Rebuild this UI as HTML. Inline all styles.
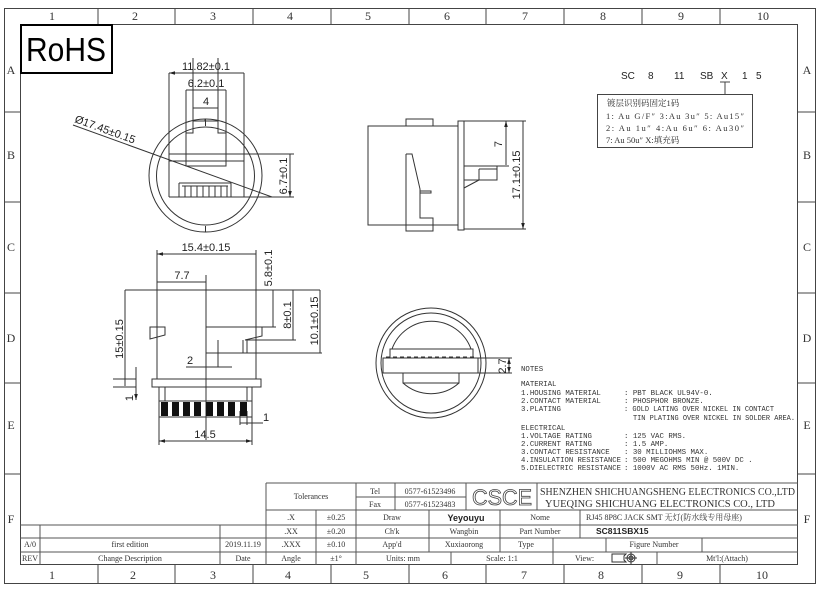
<!DOCTYPE html>
<html><head><meta charset="utf-8"><style>
html,body{margin:0;padding:0;background:#fff;}
svg{display:block;}
.t{font-family:"Liberation Serif","Noto Serif CJK SC",serif;fill:#333;}
.m{font-family:"Liberation Mono","Noto Sans CJK SC",monospace;fill:#333;}
.d{font-family:"Liberation Sans",sans-serif;fill:#222;}
</style></head><body>
<svg width="830" height="597" viewBox="0 0 830 597" xmlns="http://www.w3.org/2000/svg">
<defs>
<marker id="a" viewBox="0 0 10 10" refX="10" refY="5" markerWidth="6" markerHeight="6" orient="auto-start-reverse"><path d="M0,2 L10,5 L0,8 z" fill="#222"/></marker>
</defs>
<g fill="none" stroke="#444" stroke-width="1">
<rect x="4.5" y="8.5" width="811" height="575"/>
<rect x="20.5" y="24.5" width="777" height="540"/>
<path d="M98,8V24M175,8V24M253,8V24M331,8V24M409,8V24M486,8V24M564,8V24M642,8V24M720,8V24"/>
<path d="M98,565V583M175,565V583M253,565V583M331,565V583M409,565V583M486,565V583M564,565V583M642,565V583M720,565V583"/>
<path d="M4,112H20M4,202H20M4,293H20M4,383H20M4,474H20M798,112H815M798,202H815M798,293H815M798,383H815M798,474H815"/>
</g>
<g class="t" font-size="12" text-anchor="middle">
<text x="52" y="20">1</text><text x="135" y="20">2</text><text x="213" y="20">3</text><text x="290" y="20">4</text><text x="368" y="20">5</text><text x="447" y="20">6</text><text x="525" y="20">7</text><text x="603" y="20">8</text><text x="681" y="20">9</text><text x="763" y="20">10</text>
<text x="52" y="579">1</text><text x="133" y="579">2</text><text x="213" y="579">3</text><text x="288" y="579">4</text><text x="366" y="579">5</text><text x="445" y="579">6</text><text x="524" y="579">7</text><text x="601" y="579">8</text><text x="680" y="579">9</text><text x="762" y="579">10</text>
<text x="11" y="74">A</text><text x="11" y="159">B</text><text x="11" y="251">C</text><text x="11" y="342">D</text><text x="11" y="429">E</text><text x="11" y="523">F</text>
<text x="807" y="74">A</text><text x="807" y="159">B</text><text x="807" y="251">C</text><text x="807" y="342">D</text><text x="807" y="429">E</text><text x="807" y="523">F</text>
</g>
<rect x="21" y="25" width="91" height="48" fill="none" stroke="#000" stroke-width="2"/>
<text x="66" y="61" font-family="Liberation Sans,sans-serif" font-size="33" text-anchor="middle" fill="#000" textLength="80" lengthAdjust="spacingAndGlyphs">RoHS</text>

<g fill="none" stroke="#333" stroke-width="1">
<circle cx="205.5" cy="175.5" r="56.5"/>
<circle cx="205.5" cy="176" r="49"/>
<path d="M205.5,119V126M205.5,226V232"/>
<path d="M169,154H244M169,161H244M169,73V197M244,73V197M169,197H244"/>
<path d="M193,58V133H186V166H226V133H218V58M193,121H218M205,119V121"/>
<path d="M186,90V133M226,90V133"/>
<path d="M179,183V197M231,183V197M179,183H231"/>
<path d="M185,186V197M191,186V197M197,186V197M203,186V197M209,186V197M215,186V197M221,186V197M227,186V197M182,186H228"/>
<path d="M73,125L272,197" />
<path d="M244,154H294M244,197H294"/>
<path d="M169,73H244M186,90H226M193,108H218M290,154V197" marker-start="url(#a)" marker-end="url(#a)"/>
</g>
<g class="d" font-size="11" text-anchor="middle">
<text x="206" y="70">11.82±0.1</text>
<text x="206" y="87">6.2±0.1</text>
<text x="206" y="105">4</text>
<text transform="translate(74,122) rotate(20)" text-anchor="start">Ø17.45±0.15</text>
<text transform="translate(287,176) rotate(-90)">6.7±0.1</text>
</g>

<g fill="none" stroke="#333" stroke-width="1">
<path d="M125,290H320M157,250V379M256,250V379M157,379H256"/>
<rect x="152" y="379" width="109" height="8"/>
<rect x="159" y="387" width="93" height="30"/>
<path d="M165,387V401M247,387V401M159,401H252"/>
<path d="M206,275V440"/>
<path d="M206,327H262V336L245,340M218,340V367M206,353H322M243,340V353M247,339V353M262,327H276M245,340H296"/>
<path d="M150,327H165V335L150,339Z"/>
<path d="M186,367H232M113,379H136M113,387H136M240,411V425M247,411V425"/>
<path d="M157,254H256M157,282H206M273,290V327M293,290V340M320,290V353M125,290V386M136,367V400" marker-start="url(#a)" marker-end="url(#a)"/>
<path d="M159,441H252" marker-start="url(#a)" marker-end="url(#a)"/>
<path d="M159,417V445M252,417V445"/>
<path d="M240,423H263"/>
</g>
<g fill="#111">
<rect x="161" y="402" width="7" height="14"/><rect x="172" y="402" width="7" height="14"/><rect x="183" y="402" width="7" height="14"/><rect x="194" y="402" width="7" height="14"/><rect x="206" y="402" width="7" height="14"/><rect x="217" y="402" width="7" height="14"/><rect x="228" y="402" width="7" height="14"/><rect x="240" y="402" width="7" height="14"/>
</g>
<g class="d" font-size="11" text-anchor="middle">
<text x="206" y="251">15.4±0.15</text>
<text x="182" y="279">7.7</text>
<text transform="translate(272,268) rotate(-90)">5.8±0.1</text>
<text transform="translate(291,315) rotate(-90)">8±0.1</text>
<text transform="translate(318,321) rotate(-90)">10.1±0.15</text>
<text transform="translate(123,339) rotate(-90)">15±0.15</text>
<text x="190" y="364">2</text>
<text transform="translate(133,398) rotate(-90)">1</text>
<text x="266" y="421">1</text>
<text x="205" y="438">14.5</text>
</g>

<g fill="none" stroke="#333" stroke-width="1">
<rect x="368" y="126" width="90" height="99"/>
<rect x="406" y="119" width="27" height="7"/>
<path d="M406,154V231H433V225M406,154H412L420,189V218H433V225M420,191H431V193H420"/>
<rect x="458" y="121" width="6" height="109"/>
<path d="M464,121H526M464,229H526M464,166H497V180H464M479,169V180M479,169H497M464,188L479,180M497,166H509"/>
<path d="M506,121V165M523,121V229" marker-start="url(#a)" marker-end="url(#a)"/>
</g>
<g class="d" font-size="11" text-anchor="middle">
<text transform="translate(502,144) rotate(-90)">7</text>
<text transform="translate(520,175) rotate(-90)">17.1±0.15</text>
</g>

<g fill="none" stroke="#333" stroke-width="1">
<circle cx="431" cy="363" r="55"/>
<circle cx="431" cy="363" r="50"/>
<path d="M392,349A42,42 0 0 1 471,349M403,383A42,42 0 0 0 459,383"/>
<rect x="390" y="349" width="83" height="9"/>
<rect x="383" y="358" width="95" height="15"/>
<rect x="403" y="373" width="56" height="10"/>
<path d="M386,357H476" stroke-dasharray="4,3"/>
<path d="M478,358H512M478,373H512"/>
<path d="M509,358V373" marker-start="url(#a)" marker-end="url(#a)"/>
</g>
<text class="d" font-size="11" text-anchor="middle" transform="translate(506,366) rotate(-90)">2.7</text>

<g class="m" font-size="7.4">
<text x="521" y="371">NOTES</text>
<text x="521" y="386">MATERIAL</text>
<text x="521" y="395">1.HOUSING MATERIAL</text><text x="624" y="395">: PBT BLACK UL94V-0.</text>
<text x="521" y="403">2.CONTACT MATERIAL</text><text x="624" y="403">: PHOSPHOR BRONZE.</text>
<text x="521" y="411">3.PLATING</text><text x="624" y="411" textLength="150" lengthAdjust="spacingAndGlyphs">: GOLD LATING OVER NICKEL IN CONTACT</text>
<text x="633" y="420" textLength="162" lengthAdjust="spacingAndGlyphs">TIN PLATING OVER NICKEL IN SOLDER AREA.</text>
<text x="521" y="430">ELECTRICAL</text>
<text x="521" y="438">1.VOLTAGE RATING</text><text x="624" y="438">: 125 VAC RMS.</text>
<text x="521" y="446">2.CURRENT RATING</text><text x="624" y="446">: 1.5 AMP.</text>
<text x="521" y="454">3.CONTACT RESISTANCE</text><text x="624" y="454">: 30 MILLIOHMS MAX.</text>
<text x="521" y="462" textLength="100" lengthAdjust="spacingAndGlyphs">4.INSULATION RESISTANCE</text><text x="624" y="462">: 500 MEGOHMS MIN @ 500V DC .</text>
<text x="521" y="470" textLength="100" lengthAdjust="spacingAndGlyphs">5.DIELECTRIC RESISTANCE</text><text x="624" y="470">: 1000V AC RMS 50Hz. 1MIN.</text>
</g>

<g font-family="Liberation Sans,sans-serif" font-size="10" fill="#222">
<text x="621" y="79">SC</text><text x="648" y="79">8</text><text x="674" y="79">11</text><text x="700" y="79">SB</text><text x="721" y="79">X</text><text x="742" y="79">1</text><text x="756" y="79">5</text>
</g>
<g fill="none" stroke="#444"><path d="M720,82H730M725,82V94"/><rect x="597.5" y="94.5" width="155" height="53"/></g>
<g class="t" font-size="8.5">
<text x="607" y="106">镀层识别码固定1码</text>
<text x="606" y="119" textLength="138">1: Au G/F″  3:Au 3u″  5: Au15″</text>
<text x="606" y="131" textLength="138">2: Au 1u″   4:Au 6u″  6: Au30″</text>
<text x="606" y="143">7: Au 50u″    X:填充码</text>
</g>

<g fill="none" stroke="#555" stroke-width="1">
<path d="M266,483H798M266,483V565M266,510H798M20,525H798M20,538H798M20,552H798"/>
<path d="M40,525V565M220,525V565"/>
<path d="M316,510V565M356,483V565M395,483V510M356,497H466M466,483V510M537,483V510"/>
<path d="M429,510V552M500,510V552M580,510V538M553,538V565M606,538V552M702,538V552M451,552V565M657,552V565"/>
</g>
<g class="t" font-size="8" text-anchor="middle" fill="#444">
<text x="311" y="499">Tolerances</text>
<text x="375" y="494">Tel</text><text x="375" y="507">Fax</text>
<text x="430" y="494">0577-61523496</text><text x="430" y="507">0577-61523483</text>
<text x="291" y="520">.X</text><text x="336" y="520">±0.25</text><text x="392" y="520">Draw</text><text x="540" y="520">Nome</text>
<text x="291" y="534">.XX</text><text x="336" y="534">±0.20</text><text x="392" y="534">Ch'k</text><text x="464" y="534">Wangbin</text><text x="540" y="534">Part Number</text>
<text x="291" y="547">.XXX</text><text x="336" y="547">±0.10</text><text x="392" y="547">App'd</text><text x="464" y="547">Xuxiaorong</text><text x="526" y="547">Type</text><text x="654" y="547">Figure Number</text>
<text x="291" y="561">Angle</text><text x="336" y="561">±1°</text><text x="403" y="561">Units: mm</text><text x="502" y="561">Scale: 1:1</text><text x="727" y="561">Mt'l:(Attach)</text>
<text x="30" y="547">A/0</text><text x="130" y="547">first edition</text><text x="243" y="547">2019.11.19</text>
<text x="30" y="561">REV</text><text x="130" y="561">Change Description</text><text x="243" y="561">Date</text>
</g>
<text class="t" font-size="8" x="575" y="561" fill="#444">View:</text>
<g fill="none" stroke="#333"><path d="M612,554H626L624,556V560L626,562H612Z"/><circle cx="631" cy="558" r="4"/><circle cx="631" cy="558" r="2"/><path d="M625,558H637M631,552V564"/></g>
<text x="466" y="521" font-family="Liberation Sans,sans-serif" font-size="9" font-weight="bold" text-anchor="middle" fill="#222">Yeyouyu</text>
<text x="596" y="534" font-family="Liberation Sans,sans-serif" font-size="8.5" font-weight="bold" fill="#222">SC811SBX15</text>
<text class="t" x="586" y="520" font-size="8" fill="#444">RJ45 8P8C JACK SMT 无灯(防水线专用母座)</text>
<text x="502" y="505" font-family="Liberation Sans,sans-serif" font-size="22" text-anchor="middle" fill="#fff" stroke="#444" stroke-width="0.8" textLength="60" lengthAdjust="spacingAndGlyphs">CSCE</text>
<g class="t" font-size="11" fill="#333">
<text x="540" y="495" textLength="255" lengthAdjust="spacingAndGlyphs">SHENZHEN SHICHUANGSHENG ELECTRONICS CO.,LTD</text>
<text x="545" y="507" textLength="230" lengthAdjust="spacingAndGlyphs">YUEQING SHICHUANG ELECTRONICS CO., LTD</text>
</g>
</svg>
</body></html>
